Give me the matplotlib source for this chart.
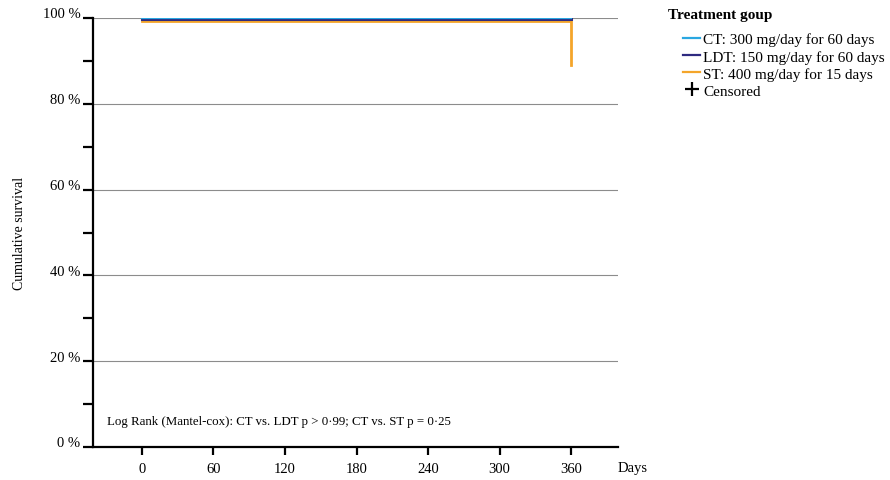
import matplotlib.pyplot as plt
import matplotlib.transforms as mtransforms
from matplotlib.lines import Line2D

plt.rcParams['font.family'] = ['Liberation Serif', 'DejaVu Serif']

# survival curves (days, % survival)
days_ct = [0, 360]
surv_ct = [100, 100]
days_ldt = [0, 360]
surv_ldt = [99.7, 99.7]
days_st = [0, 360, 360]
surv_st = [99.3, 99.3, 89]

labels = ['CT: 300 mg/day for 60 days',
          'LDT: 150 mg/day for 60 days',
          'ST: 400 mg/day for 15 days']
colors = ['#2aa7e1', '#2e2a80', '#f4a52a']

x_ticks = [0, 60, 120, 180, 240, 300, 360]
y_ticks = [0, 20, 40, 60, 80, 100]

fig = plt.figure(figsize=(8.9, 4.81), dpi=100)
ax = fig.add_axes([0.1045, 0.0686, 0.5895, 0.8919])

ax.plot(days_st, surv_st, color=colors[2], lw=2, drawstyle='steps-post', zorder=3)
ax.plot(days_ldt, surv_ldt, color=colors[1], lw=2.2, zorder=4)
ax.plot(days_ct, surv_ct, color=colors[0], lw=1.6, zorder=5)

ax.set_xlim(-41, 399)
ax.set_ylim(0, 100)
ax.set_xticks(x_ticks)
ax.set_yticks(y_ticks)
ax.set_yticklabels([f'{v} %' for v in y_ticks])
ax.set_yticks([10, 30, 50, 70, 90], minor=True)
ax.yaxis.grid(True, which='major', color='#8c8c8c', lw=0.8)
ax.set_axisbelow(True)
for s in ['top', 'right']:
    ax.spines[s].set_visible(False)
for s in ['left', 'bottom']:
    ax.spines[s].set_linewidth(1.6)
ax.tick_params(axis='both', which='both', direction='out', width=1.6, labelsize=10.5, colors='black')
ax.tick_params(axis='y', which='both', length=7, pad=2)
ax.tick_params(axis='x', length=6, pad=5)
ax.set_ylabel('Cumulative survival', fontsize=10, labelpad=12)

# y tick labels sit a bit above their ticks
shift = mtransforms.ScaledTranslation(0, 4 / 72, fig.dpi_scale_trans)
for lab in ax.get_yticklabels():
    lab.set_transform(lab.get_transform() + shift)

ax.annotate('Days', xy=(1, 0), xycoords='axes fraction', xytext=(0, -15),
            textcoords='offset points', fontsize=10.5, va='center', ha='left')

ax.text(-29, 6, 'Log Rank (Mantel-cox): CT vs. LDT p > 0·99; CT vs. ST p = 0·25',
        fontsize=9.3, va='center')

fig.text(668 / 890, 1 - 15 / 481, 'Treatment goup', fontsize=11, weight='bold', va='center')

handles = [Line2D([], [], color=c, lw=1.6) for c in colors]
handles.append(Line2D([], [], color='black', marker='+', ls='none', markersize=10, mew=1.6))
leg = ax.legend(handles, labels + ['Censored'],
                loc='upper left', bbox_to_anchor=(1.124, 0.966), frameon=False,
                borderaxespad=0, borderpad=0,
                fontsize=11, handlelength=1.15, handletextpad=0.2,
                labelspacing=0.22)

fig.savefig('out.png', dpi=100)
